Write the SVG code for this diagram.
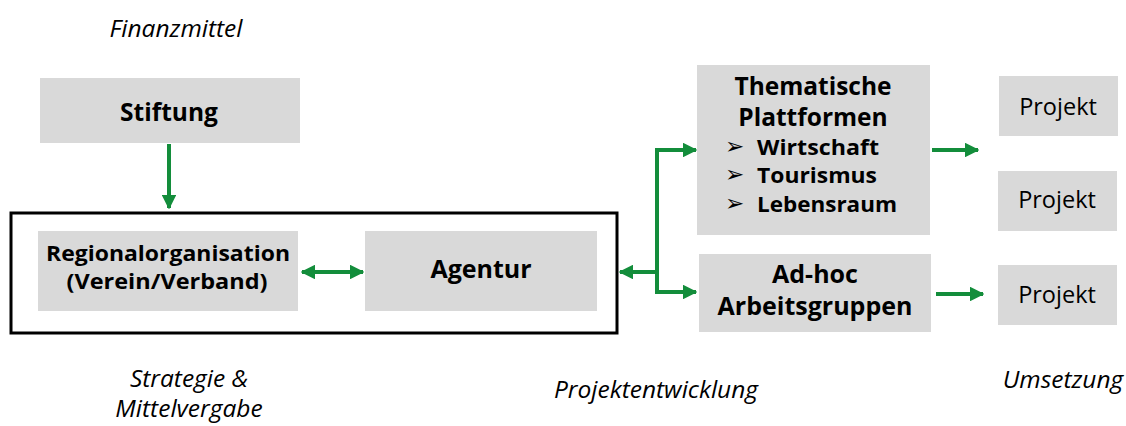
<svg xmlns="http://www.w3.org/2000/svg" width="1126" height="426" viewBox="0 0 1126 426">
<defs>
<style>
.box{fill:#d9d9d9}
.b{font-family:"Open Sans",Lato,sans-serif;font-weight:bold;fill:#000;text-anchor:middle}
.bs{font-family:"Open Sans",Lato,sans-serif;font-weight:bold;fill:#000;text-anchor:start;font-size:21px}
.bul{font-family:"DejaVu Sans",sans-serif;fill:#000;text-anchor:start;font-size:23px}
.r{font-family:"Open Sans",Lato,sans-serif;fill:#000;text-anchor:middle;font-size:23.5px}
.i{font-family:"Open Sans",Lato,sans-serif;font-style:italic;fill:#000;text-anchor:middle;font-size:24.5px}
.c{fill:none;stroke:#138d3b;stroke-width:4}
</style>
<marker id="ah" viewBox="0 0 10 10" refX="9" refY="5" markerWidth="3.7" markerHeight="3.7" orient="auto-start-reverse" markerUnits="strokeWidth">
<path d="M0,0 L10,5 L0,10 z" fill="#138d3b"/>
</marker>
</defs>
<rect width="1126" height="426" fill="#fff"/>
<g id="labels">
<text class="i" x="176" y="37">Finanzmittel</text>
<text class="i" x="189" y="387">Strategie &amp;</text>
<text class="i" x="189" y="417">Mittelvergabe</text>
<text class="i" x="656" y="398">Projektentwicklung</text>
<text class="i" x="1063" y="388">Umsetzung</text>
</g>
<g id="stiftung">
<rect class="box" x="40" y="78" width="260" height="65"/>
<text class="b" x="169" y="121" font-size="24.5">Stiftung</text>
</g>
<g id="container">
<rect x="11" y="213" width="606" height="120" fill="none" stroke="#000" stroke-width="3"/>
</g>
<g id="regionalorganisation">
<rect class="box" x="38" y="231" width="260" height="80"/>
<text class="b" x="168" y="261" font-size="21" textLength="244" lengthAdjust="spacingAndGlyphs">Regionalorganisation</text>
<text class="b" x="167" y="289" font-size="21" textLength="201" lengthAdjust="spacingAndGlyphs">(Verein/Verband)</text>
</g>
<g id="agentur">
<rect class="box" x="365" y="231" width="232" height="80"/>
<text class="b" x="481" y="278" font-size="25">Agentur</text>
</g>
<g id="thematische">
<rect class="box" x="697" y="65" width="233" height="170"/>
<text class="b" x="813" y="95" font-size="24.5">Thematische</text>
<text class="b" x="813" y="126" font-size="24.5">Plattformen</text>
<text class="bul" x="725" y="154">➢</text>
<text class="bs" x="757" y="155" textLength="122" lengthAdjust="spacingAndGlyphs">Wirtschaft</text>
<text class="bul" x="725" y="182">➢</text>
<text class="bs" x="757" y="183" textLength="120" lengthAdjust="spacingAndGlyphs">Tourismus</text>
<text class="bul" x="725" y="211">➢</text>
<text class="bs" x="757" y="212" textLength="140" lengthAdjust="spacingAndGlyphs">Lebensraum</text>
</g>
<g id="adhoc">
<rect class="box" x="699" y="254" width="232" height="78"/>
<text class="b" x="815" y="283" font-size="25">Ad-hoc</text>
<text class="b" x="815" y="315" font-size="25">Arbeitsgruppen</text>
</g>
<g id="projekt1">
<rect class="box" x="999" y="76" width="119" height="60"/>
<text class="r" x="1058" y="115">Projekt</text>
</g>
<g id="projekt2">
<rect class="box" x="998" y="171" width="119" height="60"/>
<text class="r" x="1057" y="208">Projekt</text>
</g>
<g id="projekt3">
<rect class="box" x="998" y="265" width="119" height="60"/>
<text class="r" x="1057" y="303">Projekt</text>
</g>
<g id="connectors">
<line class="c" x1="169" y1="144" x2="169" y2="208" marker-end="url(#ah)"/>
<line class="c" x1="302" y1="272" x2="363" y2="272" marker-start="url(#ah)" marker-end="url(#ah)"/>
<polyline class="c" points="620,272 657,272"  marker-start="url(#ah)"/>
<polyline class="c" points="696,150 657,150 657,292 696,292" marker-start="url(#ah)" marker-end="url(#ah)"/>
<line class="c" x1="932" y1="150" x2="978" y2="150" marker-end="url(#ah)"/>
<line class="c" x1="936" y1="294" x2="983" y2="294" marker-end="url(#ah)"/>
</g>
</svg>
